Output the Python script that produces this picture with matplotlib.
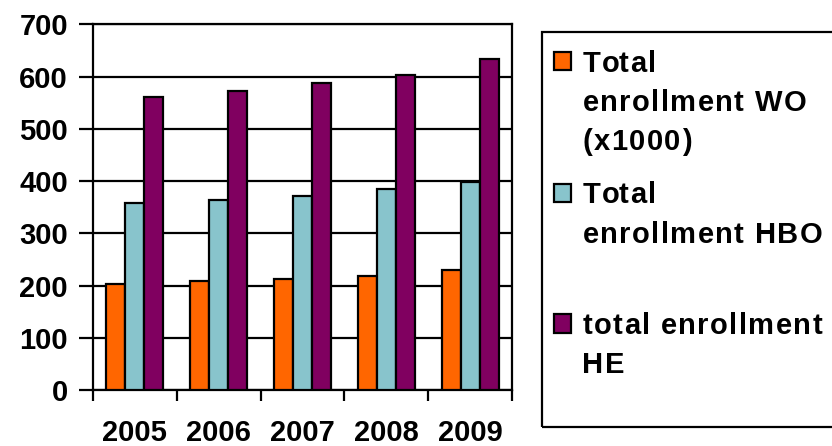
import matplotlib
matplotlib.use("Agg")
import matplotlib.pyplot as plt
from matplotlib.patches import Rectangle
import numpy as np

years = ["2005", "2006", "2007", "2008", "2009"]
series_labels = [["Total", "enrollment WO", "(x1000)"],
                 ["Total", "enrollment HBO"],
                 ["total enrollment", "HE"]]
wo = [203, 208, 213, 219, 230]
hbo = [357, 363, 372, 384, 399]
he = [560, 572, 587, 603, 634]
colors = ["#FF6600", "#88C4CC", "#800060"]

plt.rcParams["font.family"] = ["Liberation Sans", "DejaVu Sans"]
plt.rcParams["font.weight"] = "bold"

W, H = 832, 446
fig = plt.figure(figsize=(W / 100, H / 100), dpi=100)
ax = fig.add_axes([93 / W, 1 - 390 / H, (512 - 93) / W, (390 - 24.3) / H])

x = np.arange(len(years))
w = 0.227
for i, vals in enumerate([wo, hbo, he]):
    ax.bar(x + (i - 1) * w, vals, width=w, color=colors[i], edgecolor="black",
           linewidth=1.6, zorder=3)

ax.set_xlim(-0.5, len(years) - 0.5)
ax.set_ylim(0, 700)
ax.set_yticks(range(0, 701, 100))
ax.yaxis.grid(True, color="black", linewidth=1.6, zorder=1)
ax.set_axisbelow(True)
for s in ax.spines.values():
    s.set_linewidth(1.6)

fs = 21
ax.set_xticks(np.arange(len(years) + 1) - 0.5)
ax.set_xticklabels([])
ax.set_xticks(x, minor=True)
ax.set_xticklabels(years, minor=True)
ax.tick_params(axis="x", which="major", length=8, width=1.6, direction="out")
ax.tick_params(axis="x", which="minor", length=0, pad=21, labelsize=fs)
ax.tick_params(axis="y", length=10, width=1.6, direction="out", pad=8, labelsize=fs)
for lab in ax.get_xticklabels(minor=True) + ax.get_yticklabels():
    lab.set_fontweight("bold")

# legend box, extending past the right edge of the figure
fig.add_artist(Rectangle((542 / W, 1 - 427 / H), 0.5, (427 - 32) / H,
                         transform=fig.transFigure, fill=False,
                         edgecolor="black", linewidth=1.6))

renderer = fig.canvas.get_renderer()
probe = fig.text(0, 0, "", fontsize=fs, fontweight="bold")


def spaced_text(x0, baseline, s, spacing=1.4):
    """Draw s with extra tracking between letters (pixel coordinates)."""
    for k, ch in enumerate(s):
        if k:
            probe.set_text(s[:k])
            pw = probe.get_window_extent(renderer).width
        else:
            pw = 0.0
        fig.text((x0 + pw + k * spacing) / W, 1 - baseline / H, ch,
                 fontsize=fs, fontweight="bold", ha="left", va="baseline")


line_gap = 39.3
entry_baseline = [71.7, 203.5, 334]
for lines, col, b0 in zip(series_labels, colors, entry_baseline):
    fig.add_artist(Rectangle((553.5 / W, 1 - (b0 - 1.5) / H), 17.5 / W, 18.5 / H,
                             transform=fig.transFigure, facecolor=col,
                             edgecolor="black", linewidth=1.6))
    for j, line in enumerate(lines):
        spaced_text(582.5, b0 + j * line_gap, line)
probe.remove()

fig.savefig("out.png", dpi=100)
